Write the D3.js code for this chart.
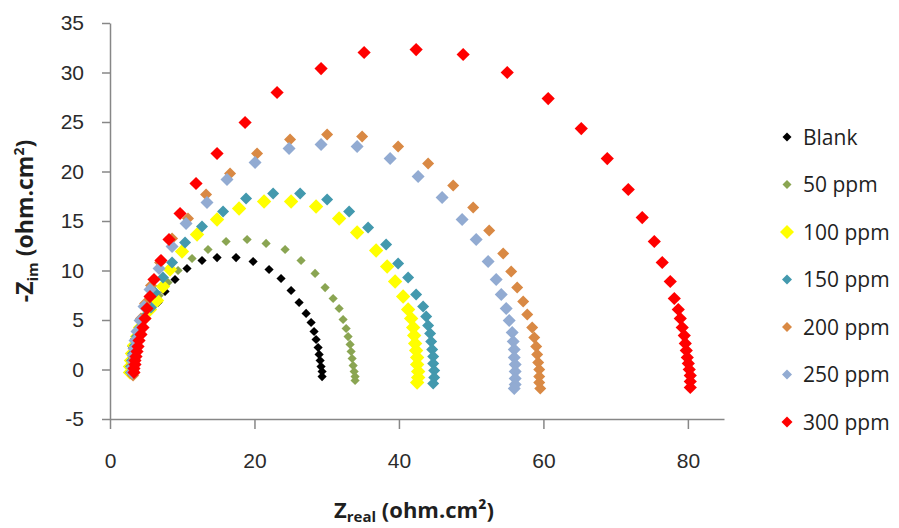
<!DOCTYPE html>
<html>
<head>
<meta charset="utf-8">
<script src="https://cdn.jsdelivr.net/npm/d3@7"></script>
<style>
  body { margin: 0; background: #fff; }
  svg { display: block; font-family: "Open Sans", sans-serif; }
  .tick text { fill: #2b2b2b; font-size: 21px; }
</style>
</head>
<body>
<svg width="899" height="528"></svg>
<script>
const seriesNames = ["Blank", "50 ppm", "100 ppm", "150 ppm", "200 ppm", "250 ppm", "300 ppm"];

// [Zreal, -Zim] pairs
const blank = [[2.49,-0.30],[2.49,0.30],[2.63,0.91],[2.77,1.62],[3.05,2.32],[3.46,3.13],[4.02,4.04],[4.71,5.05],[5.54,5.96],[6.65,6.77],[7.62,7.88],[9.00,9.09],[10.66,10.20],[12.74,11.01],[14.82,11.31],[17.45,11.31],[19.81,10.91],[22.02,10.10],[23.68,9.19],[25.07,7.98],[26.18,6.77],[27.15,5.66],[27.84,4.75],[28.25,3.84],[28.53,3.03],[28.81,2.22],[28.95,1.52],[29.09,0.91],[29.22,0.30],[29.36,-0.20],[29.36,-0.71]];
const ppm50 = [[2.63,-0.30],[2.63,0.30],[2.77,0.91],[2.91,1.62],[3.19,2.42],[3.60,3.23],[4.16,4.14],[4.85,5.15],[5.68,6.26],[6.79,7.47],[8.03,8.79],[9.42,10.00],[11.36,11.21],[13.57,12.12],[16.07,12.93],[18.98,13.13],[21.61,12.73],[24.24,12.12],[26.45,11.01],[28.39,9.70],[29.78,8.28],[30.89,7.17],[31.72,6.16],[32.27,5.05],[32.69,4.14],[32.96,3.33],[33.24,2.53],[33.38,1.82],[33.52,1.11],[33.66,0.40],[33.80,-0.20],[33.93,-0.71],[33.93,-1.11]];
const ppm100 = [[2.77,-0.30],[2.77,0.30],[2.91,0.91],[3.05,1.62],[3.32,2.42],[3.74,3.33],[4.16,4.24],[4.71,5.15],[5.54,6.06],[6.51,6.97],[7.34,8.38],[8.31,10.10],[9.97,11.92],[12.05,13.64],[14.82,15.15],[17.87,16.26],[21.33,16.97],[25.07,16.97],[28.53,16.46],[31.72,15.25],[34.21,13.84],[36.84,12.02],[38.37,10.40],[39.47,8.89],[40.58,7.37],[41.27,6.06],[41.69,5.15],[41.97,4.24],[42.11,3.43],[42.24,2.63],[42.38,1.92],[42.52,1.21],[42.52,0.51],[42.66,-0.20],[42.66,-0.81],[42.52,-1.31]];
const ppm150 = [[2.91,-0.30],[2.91,0.30],[3.05,0.91],[3.19,1.62],[3.46,2.42],[3.74,3.33],[4.16,4.24],[4.71,5.25],[5.68,6.26],[6.23,7.78],[7.34,9.29],[8.59,10.81],[10.39,12.83],[12.74,14.44],[15.65,15.96],[18.84,17.27],[22.58,17.78],[26.32,17.78],[30.06,17.17],[33.10,15.96],[35.73,14.34],[38.23,12.63],[39.89,10.71],[41.27,9.29],[42.38,7.58],[43.35,6.36],[43.77,5.35],[44.04,4.44],[44.32,3.64],[44.46,2.83],[44.60,2.02],[44.74,1.31],[44.74,0.61],[44.88,-0.10],[44.88,-0.81],[44.74,-1.41]];
const ppm200 = [[3.19,-0.61],[3.19,-0.10],[3.19,0.51],[3.32,1.21],[3.46,2.02],[3.60,2.93],[3.88,3.94],[4.29,5.15],[4.85,6.67],[5.68,8.48],[6.93,10.81],[8.59,13.23],[10.80,15.25],[13.30,17.68],[16.62,19.80],[20.36,21.82],[24.93,23.23],[30.06,23.74],[34.90,23.54],[39.89,22.53],[44.04,20.81],[47.51,18.59],[50.28,16.36],[52.49,14.04],[54.43,11.72],[55.54,9.90],[56.37,8.28],[57.20,6.87],[57.76,5.56],[58.45,4.24],[58.73,3.23],[59.00,2.32],[59.14,1.52],[59.28,0.71],[59.42,0.00],[59.42,-0.71],[59.42,-1.31],[59.56,-1.92]];
const ppm250 = [[3.05,-0.30],[3.05,0.20],[3.19,0.81],[3.19,1.41],[3.32,2.12],[3.46,2.93],[3.74,3.84],[4.16,4.95],[4.71,6.36],[5.54,8.08],[6.79,10.20],[8.59,12.42],[10.53,14.75],[13.43,16.87],[16.20,19.19],[20.08,20.91],[24.79,22.32],[29.22,22.73],[34.21,22.53],[38.78,21.31],[42.66,19.49],[45.98,17.37],[48.75,15.15],[50.69,13.13],[52.35,10.91],[53.46,9.09],[54.16,7.58],[54.85,6.16],[55.26,4.95],[55.68,3.74],[55.82,2.83],[55.96,2.02],[55.96,1.21],[56.09,0.51],[56.09,-0.20],[56.09,-0.91],[56.09,-1.52],[55.96,-1.92]];
const ppm300 = [[3.32,-0.30],[3.32,0.10],[3.46,0.51],[3.46,0.91],[3.60,1.31],[3.74,1.82],[3.88,2.32],[4.02,2.93],[4.29,3.54],[4.57,4.24],[4.85,5.15],[5.12,6.16],[5.54,7.37],[6.09,9.09],[7.06,11.01],[8.17,13.13],[9.70,15.76],[11.91,18.79],[14.82,21.82],[18.70,24.95],[23.13,27.98],[29.22,30.40],[35.18,32.02],[42.38,32.32],[48.89,31.82],[54.99,30.00],[60.66,27.37],[65.24,24.34],[68.84,21.31],[71.75,18.18],[73.68,15.35],[75.35,12.93],[76.45,10.81],[77.56,8.89],[78.12,7.17],[78.67,6.06],[78.95,5.15],[79.22,4.24],[79.50,3.43],[79.64,2.63],[79.78,1.92],[79.92,1.21],[80.06,0.61],[80.19,0.00],[80.33,-0.61],[80.33,-1.21],[80.33,-1.82]];

const xTicks = [0, 20, 40, 60, 80];
const yTicks = [-5, 0, 5, 10, 15, 20, 25, 30, 35];

const allSeries = [blank, ppm50, ppm100, ppm150, ppm200, ppm250, ppm300];
const colors = ["#000000", "#8aa552", "#ffff00", "#4399ae", "#d98944", "#92abd2", "#ff0000"];
const markerHalf = [4.6, 4.6, 7.2, 6, 6, 6.5, 6.6];
const legendHalf = [4.5, 4.5, 7, 5, 5, 5, 5.5];

const svg = d3.select("svg");

const x = d3.scaleLinear().domain([0, 85]).range([110, 724]);
const y = d3.scaleLinear().domain([-5, 35]).range([419, 23]);

const diamond = h => `M0,${-h}L${h},0L0,${h}L${-h},0Z`;
const plain = d => String(d); // keep the ASCII hyphen in "-5"

// axes
const xAxis = svg.append("g")
    .attr("transform", `translate(0,${y(-5)})`)
    .call(d3.axisBottom(x).tickValues(xTicks).tickFormat(plain).tickSize(10).tickPadding(24).tickSizeOuter(0));
const yAxis = svg.append("g")
    .attr("transform", `translate(${x(0)},0)`)
    .call(d3.axisLeft(y).tickValues(yTicks).tickFormat(plain).tickSize(8).tickPadding(18).tickSizeOuter(0));

[xAxis, yAxis].forEach(a => {
    a.select(".domain").attr("stroke", "#878787").attr("stroke-width", 1.5);
    a.selectAll(".tick line").attr("stroke", "#878787").attr("stroke-width", 1.5);
});

// points
allSeries.forEach((data, i) => {
    svg.append("g")
        .selectAll("path")
        .data(data)
        .join("path")
        .attr("transform", d => `translate(${x(d[0])},${y(d[1])})`)
        .attr("d", diamond(markerHalf[i]))
        .attr("fill", colors[i]);
});

// legend
const legend = svg.append("g").attr("transform", "translate(787,137)");
seriesNames.forEach((name, i) => {
    const row = legend.append("g").attr("transform", `translate(0,${i * 47.5})`);
    row.append("path").attr("d", diamond(legendHalf[i])).attr("fill", colors[i]);
    row.append("text")
        .attr("x", 16)
        .attr("dy", "0.36em")
        .attr("font-size", 21)
        .attr("fill", "#1f1f1f")
        .text(name);
});

// axis titles
const xt = svg.append("text")
    .attr("x", 414)
    .attr("y", 518)
    .attr("text-anchor", "middle")
    .attr("font-size", 22)
    .attr("font-weight", "bold")
    .attr("fill", "#1f1f1f");
xt.append("tspan").text("Z");
xt.append("tspan").attr("font-size", 15).attr("dy", 4).text("real");
xt.append("tspan").attr("dy", -4).text(" (ohm.cm²)");

const yt = svg.append("text")
    .attr("transform", "translate(33,221) rotate(-90)")
    .attr("text-anchor", "middle")
    .attr("font-size", 23)
    .attr("font-weight", "bold")
    .attr("fill", "#1f1f1f");
yt.append("tspan").text("-Z");
yt.append("tspan").attr("font-size", 15).attr("dy", 5).text("im");
yt.append("tspan").attr("dy", -5).text(" (ohm.cm");
yt.append("tspan").attr("font-size", 14).attr("dy", -9).text("2");
yt.append("tspan").attr("dy", 9).text(")");
</script>
</body>
</html>
